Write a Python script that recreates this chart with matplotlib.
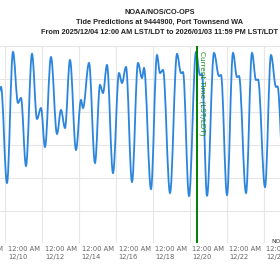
import matplotlib
matplotlib.use("Agg")
import matplotlib.pyplot as plt
from matplotlib.path import Path
from matplotlib.patches import PathPatch
import matplotlib.transforms as mtransforms

# ---- data ----
# high / low tide events: days since 2025-12-10 00:00 LST/LDT, height (ft)
event_days = [-0.461, -0.244, 0.081, 0.407, 0.678, 0.841, 1.112, 1.438, 1.709, 1.926,
              2.143, 2.469, 2.794, 3.011, 3.228, 3.500, 3.825, 4.097, 4.205, 4.531,
              4.856, 5.128, 5.290, 5.507, 5.833, 6.159, 6.321, 6.538, 6.864, 7.189,
              7.406, 7.515, 7.895, 8.220, 8.383, 8.546, 8.926, 9.306, 9.523, 9.631,
              9.957, 10.337, 10.554, 10.662, 10.933, 11.313, 11.585, 11.693, 12.019, 12.344,
              12.561, 12.670, 13.050, 13.375, 13.592, 13.701, 14.081, 14.406, 14.678, 14.759,
              15.112]
event_ft = [6.73, 7.52, 1.70, 9.64, 6.55, 6.85, 2.73, 9.52, 5.58, 6.24,
            3.88, 9.33, 4.67, 6.12, 5.03, 9.15, 3.70, 6.73, 6.24, 8.97,
            2.91, 7.64, 7.15, 8.85, 2.30, 8.36, 7.76, 8.73, 1.76, 8.97,
            8.06, 8.67, 1.33, 9.45, 8.36, 8.55, 1.09, 9.52, 8.36, 8.42,
            0.91, 9.64, 8.24, 8.30, 0.91, 9.58, 8.18, 8.24, 0.97, 9.58,
            8.12, 8.18, 1.09, 9.58, 7.94, 7.97, 1.45, 9.45, 7.52, 7.55,
            1.58]

tick_days = [-2, 0, 2, 4, 6, 8, 10, 12, 14]
tick_labels = ["12:00 AM\n12/08", "12:00 AM\n12/10", "12:00 AM\n12/12", "12:00 AM\n12/14",
               "12:00 AM\n12/16", "12:00 AM\n12/18", "12:00 AM\n12/20", "12:00 AM\n12/22",
               "12:00 AM\n12/24"]
height_ticks = [0, 2, 4, 6, 8, 10]
current_time_day = 10.391

title_lines = ["NOAA/NOS/CO-OPS",
               "Tide Predictions at 9444900, Port Townsend WA",
               "From 2025/12/04 12:00 AM LST/LDT to 2026/01/03 11:59 PM LST/LDT"]
credit = "NOAA/NOS/CO-OPS"

# ---- figure ----
DPI = 100
fig = plt.figure(figsize=(2.8, 2.8), dpi=DPI)
fig.patch.set_facecolor("white")
W = H = 280
ax = fig.add_axes([0, 1 - 243 / H, 1, (243 - 46) / H])
ax.set_xlim(-0.298, 14.894)
ax.set_ylim(-1.94, 10)
ax.set_xticks(tick_days[1:])
ax.set_yticks(height_ticks)
ax.tick_params(length=0, labelbottom=False, labelleft=False)
for s in ax.spines.values():
    s.set_visible(False)
ax.grid(True, color="#e6e6e6", lw=0.8)
ax.set_axisbelow(True)

# smooth tide curve through the high/low events (horizontal tangents at extrema)
k = 0.36
verts = [(event_days[0], event_ft[0])]
codes = [Path.MOVETO]
for i in range(1, len(event_days)):
    t0, h0 = event_days[i - 1], event_ft[i - 1]
    t1, h1 = event_days[i], event_ft[i]
    dt = t1 - t0
    verts += [(t0 + k * dt, h0), (t1 - k * dt, h1), (t1, h1)]
    codes += [Path.CURVE4] * 3
ax.add_patch(PathPatch(Path(verts, codes), facecolor="none", edgecolor="#2b85dc",
                       lw=1.3, zorder=2))

# current time line
ax.axvline(current_time_day, color="#008000", lw=1.4, zorder=3)
blend = mtransforms.blended_transform_factory(ax.transData, ax.transAxes)
off = mtransforms.ScaledTranslation(2.0 / DPI, -5.0 / DPI, fig.dpi_scale_trans)
ax.text(current_time_day, 1, "Current Time (LST/LDT)", transform=blend + off,
        rotation=270, ha="left", va="top", fontsize=5.2, color="#108a10", zorder=4)

# x tick labels (left aligned right of gridline)
off2 = mtransforms.ScaledTranslation(2.5 / DPI, -3.0 / DPI, fig.dpi_scale_trans)
for td, lab in zip(tick_days, tick_labels):
    ax.text(td, 0, lab, transform=blend + off2, ha="left", va="top",
            fontsize=4.85, color="#666666", linespacing=1.3, clip_on=False)

# titles
for line, yc in zip(title_lines, [13, 22, 32]):
    fig.text(159.5 / W, 1 - yc / H, line, ha="center", va="center", fontsize=5.3,
             fontweight="bold", family="Liberation Sans", color="#222222")

fig.text(271 / W, 1 - 241 / H, credit, ha="left", va="center", fontsize=4.3,
         color="#333333")

fig.savefig("out.png", dpi=DPI, facecolor="white")
